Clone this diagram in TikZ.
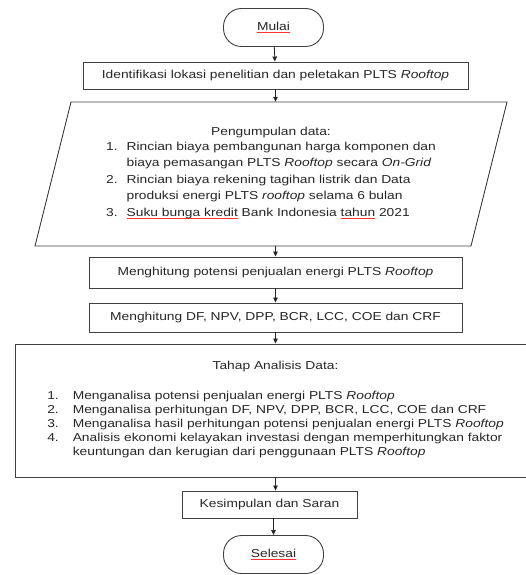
\documentclass[tikz,border=0pt]{standalone}
\usepackage{fontspec}
\setmainfont{Liberation Sans}[FakeStretch=1.2]
\usetikzlibrary{positioning,arrows.meta}
\newsavebox{\typobox}
\newcommand{\typo}[1]{\sbox{\typobox}{#1}\rlap{\textcolor{red!80}{\rule[-2.5pt]{\wd\typobox}{0.7pt}}}\usebox{\typobox}}
\begin{document}
\begin{tikzpicture}[x=1pt,y=-1pt,
    every node/.style={font=\fontsize{11.5}{14}\selectfont, text=black!85},
    term/.style={draw=black!75, line width=0.9pt, rounded corners=18pt, minimum width=100pt, minimum height=38pt, inner sep=0pt},
    proc/.style={draw=black!75, line width=0.9pt, minimum height=28pt, inner sep=0pt},
    flow/.style={draw=black!85, line width=0.8pt, -{Triangle[length=5pt,width=4.5pt]}}]
    \useasboundingbox (0,0) rectangle (525,575);
    \node[term] (mulai) at (273.5,27.5) {\typo{Mulai}};
    \node[proc, minimum width=385pt, minimum height=27pt] (lokasi) at (275.5,75.5) {Identifikasi lokasi penelitian dan peletakan PLTS \textit{Rooftop}};
    \node[minimum width=400pt, minimum height=144pt, inner sep=0pt, align=center, font=\fontsize{11.5}{16.5}\selectfont] (data) at (271,174) {Pengumpulan data:\\
        \begin{tabular}{@{}l@{\hspace{9pt}}l@{}}
        1. & Rincian biaya pembangunan harga komponen dan\\
           & biaya pemasangan PLTS \textit{Rooftop} secara \textit{On-Grid}\\
        2. & Rincian biaya rekening tagihan listrik dan Data\\
           & produksi energi PLTS \textit{rooftop} selama 6 bulan\\
        3. & \typo{Suku bunga kredit} Bank Indonesia \typo{tahun} 2021
        \end{tabular}};
    \draw[draw=black!75, line width=0.9pt] (71,102) -- (507,102) -- (471,246) -- (35,246) -- cycle;
    \node[proc, minimum width=373pt, minimum height=31pt] (potensi) at (275.5,272.5) {Menghitung potensi penjualan energi PLTS \textit{Rooftop}};
    \node[proc, minimum width=373pt, minimum height=29pt] (hitung) at (275.5,317.5) {Menghitung DF, NPV, DPP, BCR, LCC, COE dan CRF};
    \node[proc, minimum width=521pt, minimum height=133pt, align=center] (analisis) at (275.5,410.5) {Tahap Analisis Data:\\[16pt]
        \begin{tabular}{@{}l@{\hspace{14pt}}l@{}}
        1. & Menganalisa potensi penjualan energi PLTS \textit{Rooftop}\\
        2. & Menganalisa perhitungan DF, NPV, DPP, BCR, LCC, COE dan CRF\\
        3. & Menganalisa hasil perhitungan potensi penjualan energi PLTS \textit{Rooftop}\\
        4. & Analisis ekonomi kelayakan investasi dengan memperhitungkan faktor\\
           & keuntungan dan kerugian dari penggunaan PLTS \textit{Rooftop}
        \end{tabular}};
    \node[proc, minimum width=175pt, minimum height=27pt] (simpulan) at (269.5,504.5) {Kesimpulan dan Saran};
    \node[term] (selesai) at (273.5,554.5) {\typo{Selesai}};
    \draw[flow] (mulai) -- (lokasi);
    \draw[flow] (lokasi.south) -- (lokasi.south |- data.north);
    \draw[flow] (lokasi.south |- data.south) -- (potensi.north);
    \draw[flow] (potensi) -- (hitung);
    \draw[flow] (hitung) -- (analisis);
    \draw[flow] (analisis.south) -- (analisis.south |- simpulan.north);
    \draw[flow] (selesai.north |- simpulan.south) -- (selesai);
\end{tikzpicture}
\end{document}
